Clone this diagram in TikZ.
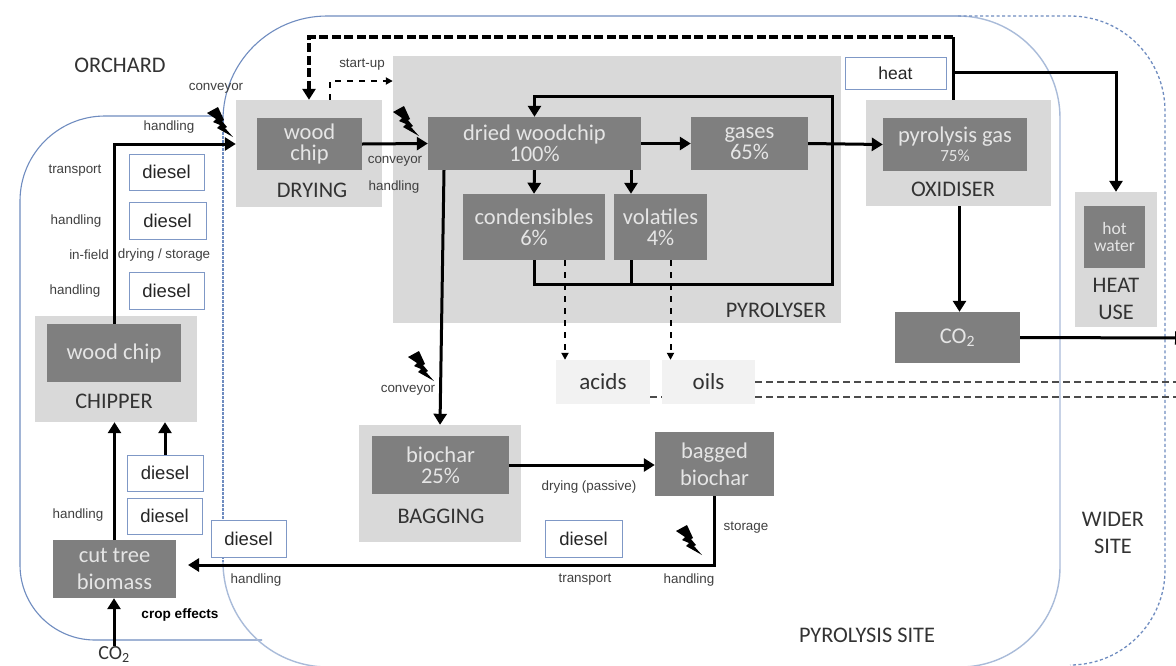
\documentclass[tikz,border=0pt]{standalone}
\usepackage{fontspec}
\setmainfont{Carlito}
\newfontfamily\arialfont{Liberation Sans}
\usetikzlibrary{arrows,arrows.meta,backgrounds}
\definecolor{sitelinecol}{HTML}{6F8CC0}
\definecolor{sitepalecol}{HTML}{A9BBD9}
\definecolor{darkboxcol}{HTML}{7F7F7F}
\definecolor{zonecol}{HTML}{D9D9D9}
\definecolor{productcol}{HTML}{F2F2F2}
\definecolor{fueledgecol}{HTML}{7F98C6}
\definecolor{notecol}{HTML}{404040}
\tikzset{bolt/.pic={\fill [black] (0,6) -- (11,0) -- (17,13) -- (15,14) -- (20,20) -- (18,21) -- (26,30)
  -- (10,21) -- (13,18) -- (6,15) -- (9,12) -- cycle;}}
\begin{document}
\begin{tikzpicture}[x=1pt, y=-1pt]
        \tikzstyle{darkbox}=[rectangle, fill=darkboxcol, text=white!90!black, inner sep=0pt, align=center, font=\fontsize{22.5}{21}\selectfont]
        \tikzstyle{zone}=[rectangle, fill=zonecol, inner sep=0pt]
        \tikzstyle{zonelabel}=[text=black!80, inner sep=0pt, align=center, font=\fontsize{22.3}{27}\selectfont]
        \tikzstyle{product}=[rectangle, fill=productcol, text=black!80, inner sep=0pt, font=\fontsize{23}{22}\selectfont]
        \tikzstyle{fuel}=[rectangle, draw=fueledgecol, line width=1pt, fill=white, text=black!85, inner sep=0pt, font=\arialfont\fontsize{18.5}{20}\selectfont]
        \tikzstyle{note}=[text=notecol, inner sep=0pt, font=\arialfont\fontsize{13.4}{14}\selectfont]
        \tikzstyle{flow}=[line width=3pt, black, -{Triangle[width=13pt,length=11pt]}]
        \tikzstyle{flowline}=[line width=3pt, black]
        \tikzstyle{loopdash}=[flow, line width=4pt, dash pattern=on 9pt off 3.5pt]
        \tikzstyle{smalldash}=[line width=2pt, black, dash pattern=on 6pt off 6pt, -{Triangle[width=7pt,length=7pt]}]
        \tikzstyle{sidedash}=[line width=1.6pt, black!70, dash pattern=on 7pt off 4pt]
        \useasboundingbox (0,0) rectangle (1176,665);

        % zones
        \node [zone, minimum width=146pt, minimum height=107pt] (drying) at (309,153.5) {};
        \node [zone, minimum width=448pt, minimum height=267pt] (pyrolyser) at (617,189.5) {};
        \node [zone, minimum width=185pt, minimum height=106pt] (oxidiser) at (958.5,153) {};
        \node [zone, minimum width=82pt, minimum height=135pt] (heatuse) at (1116,259.5) {};
        \node [zone, minimum width=162pt, minimum height=106pt] (chipper) at (116,369) {};
        \node [zone, minimum width=162pt, minimum height=117pt] (bagging) at (440,483.5) {};

        % process boxes
        \node [darkbox, minimum width=105pt, minimum height=52pt] (wetchip) at (309.5,144) {wood\\chip};
        \node [darkbox, minimum width=213pt, minimum height=53pt] (dried) at (534.5,143.5) {dried woodchip\\100\%};
        \node [darkbox, minimum width=117pt, minimum height=53pt] (gases) at (749.5,143.5) {gases\\65\%};
        \node [darkbox, minimum width=142pt, minimum height=66pt] (condens) at (534,227) {condensibles\\6\%};
        \node [darkbox, minimum width=93pt, minimum height=66pt] (volatiles) at (660.5,227) {volatiles\\4\%};
        \node [darkbox, minimum width=144pt, minimum height=53pt] (pyrogas) at (955,144.5) {pyrolysis gas\\[-2pt]{\fontsize{17}{14}\selectfont 75\%}};
        \node [darkbox, minimum width=61pt, minimum height=62pt, font=\fontsize{17.5}{17}\selectfont] (hotwater) at (1114.5,237) {hot\\water};
        \node [darkbox, minimum width=125pt, minimum height=51pt] (coo) at (957.5,337.5) {CO\textsubscript{2}};
        \node [darkbox, minimum width=134pt, minimum height=58pt] (chipbox) at (114,353) {wood chip};
        \node [darkbox, minimum width=137pt, minimum height=58pt] (biochar) at (440.5,465) {biochar\\25\%};
        \node [darkbox, minimum width=119pt, minimum height=64pt, font=\fontsize{22.5}{27}\selectfont] (bagged) at (714.5,464) {bagged\\biochar};
        \node [darkbox, minimum width=123pt, minimum height=58pt, font=\fontsize{22.5}{27}\selectfont] (biomass) at (114.5,569) {cut tree\\biomass};

        % products and fuel inputs
        \node [product, minimum width=94pt, minimum height=44pt] (acids) at (603,382) {acids};
        \node [product, minimum width=93pt, minimum height=44pt] (oils) at (708.5,382) {oils};
        \node [fuel, minimum width=101pt, minimum height=32pt, font=\arialfont\fontsize{17.5}{20}\selectfont] (heat) at (895.5,73) {heat};
        \node [fuel, minimum width=75pt, minimum height=36pt] (dieselA) at (166.5,172) {diesel};
        \node [fuel, minimum width=77pt, minimum height=37pt] (dieselB) at (167.5,220.5) {diesel};
        \node [fuel, minimum width=75pt, minimum height=37pt] (dieselC) at (166.5,290.5) {diesel};
        \node [fuel, minimum width=76pt, minimum height=36pt] (dieselD) at (165,473) {diesel};
        \node [fuel, minimum width=75pt, minimum height=36pt] (dieselE) at (164.5,516) {diesel};
        \node [fuel, minimum width=75pt, minimum height=37pt] (dieselF) at (248.5,538.5) {diesel};
        \node [fuel, minimum width=77pt, minimum height=37pt] (dieselG) at (583.5,538.5) {diesel};

        % zone labels
        \node [zonelabel] (dryinglabel) at (312,190) {DRYING};
        \node [zonelabel] (pyrolyserlabel) at (776,310) {PYROLYSER};
        \node [zonelabel] (oxidiserlabel) at (953,189) {OXIDISER};
        \node [zonelabel] (heatlabel) at (1116,298.5) {HEAT\\USE};
        \node [zonelabel] (chipperlabel) at (114,401) {CHIPPER};
        \node [zonelabel] (bagginglabel) at (441,516) {BAGGING};
        \node [zonelabel] (orchardlabel) at (120,65) {ORCHARD};
        \node [zonelabel] (sitelabel) at (867,635) {PYROLYSIS SITE};
        \node [zonelabel] (widerlabel) at (1113,533) {WIDER\\SITE};
        \node [zonelabel, font=\fontsize{20}{22}\selectfont] (intake) at (114,654.5) {CO\textsubscript{2}};

        % small notes
        \node [note] (n1) at (216,88) {conveyor};
        \node [note] (n2) at (169,127) {handling};
        \node [note] (n3) at (75,171) {transport};
        \node [note] (n4) at (76,221) {handling};
        \node [note] (n5) at (89,255) {in-field};
        \node [note] (n6) at (164,255) {drying / storage};
        \node [note] (n7) at (75,291) {handling};
        \node [note] (n8) at (362,65) {start-up};
        \node [note] (n9) at (395,161) {conveyor};
        \node [note] (n10) at (394,187) {handling};
        \node [note] (n11) at (78,515) {handling};
        \node [note] (n12) at (256,580) {handling};
        \node [note, text=black, font=\arialfont\bfseries\fontsize{13.6}{14}\selectfont] (n13) at (180,615) {crop effects};
        \node [note] (n14) at (408,390) {conveyor};
        \node [note] (n15) at (589,487) {drying (passive)};
        \node [note] (n16) at (746,528) {storage};
        \node [note] (n17) at (585,580) {transport};
        \node [note] (n18) at (689,580) {handling};

        % free corners of the connectors
        \coordinate (topbend) at (953,37);
        \coordinate (heatjoin) at (953,72);
        \coordinate (startcorner) at (330,81);
        \coordinate (loopse) at (832,284);
        \coordinate (loopne) at (832,96);
        \coordinate (rightedge) at (1186,338);
        \coordinate (returnend) at (188,565);

        % connectors
        \draw [flow] (biomass.north) -- (biomass.north |- chipper.south);
        \draw [flow] (dieselD.north) -- (dieselD.north |- chipper.south);
        \draw [flow] (intake.north) -- (intake.north |- biomass.south);
        \draw [flow] (chipbox.north) |- (wetchip.west -| drying.west);
        \draw [flow] (wetchip.east) -- (dried.west);
        \draw [flow] (dried.east) -- (gases.west);
        \draw [flow] (gases.east) -- (pyrogas.west);
        \draw [flow] (dried.south) -- (condens.north);
        \draw [flow] ([xshift=-29.5pt]volatiles.north |- dried.south) -- ([xshift=-29.5pt]volatiles.north);
        \draw [flow] (condens.south) |- (loopse) -- (loopne) -| (dried.north);
        \draw [flowline] ([xshift=-29.5pt]volatiles.south) -- ([xshift=-29.5pt]volatiles.south |- loopse);
        \draw [flow] ([xshift=-90.5pt]dried.south) -- (bagging.north);
        \draw [flow] (biochar.east) -- (biochar.east -| bagged.west);
        \draw [flow] (bagged.south) |- (returnend);
        \draw [flow] ([xshift=1pt]oxidiser.south) -- ([xshift=1pt]oxidiser.south |- coo.north);
        \draw [flow] (coo.east) -- (rightedge);
        \draw [flowline] (oxidiser.north -| topbend) -- (topbend);
        \draw [loopdash] (topbend) -| (drying.north);
        \draw [flow] (heatjoin) -| (heatuse.north);
        \draw [smalldash] (startcorner |- drying.north) |- (startcorner -| pyrolyser.west);
        \draw [smalldash] ([xshift=31pt]condens.south) -- ([xshift=31pt]condens.south |- acids.north);
        \draw [smalldash] ([xshift=10pt]volatiles.south) -- ([xshift=10pt]volatiles.south |- oils.north);
        \draw [sidedash] (oils.east) -- (oils.east -| rightedge);
        \draw [sidedash] ([yshift=-15pt]acids.east) -- ([yshift=-15pt]oils.west);
        \draw [sidedash] ([yshift=-15pt]oils.east) -- ([yshift=-15pt]oils.east -| rightedge);

        % power inputs
        \pic at (207,107) {bolt};
        \pic at (393,106) {bolt};
        \pic at (408,351) {bolt};
        \pic at (676,525) {bolt};

        \begin{pgfonlayer}{background}
          \fill [white] (0,0) rectangle (1176,665);
          % orchard
          \draw [sitelinecol, line width=1.1pt] (223,116) -- (105,116) arc (270:180:85) -- (20,565) arc (180:90:75) -- (262,640);
          % pyrolysis site
          \draw [sitelinecol, line width=1.1pt, dash pattern=on 3pt off 1pt] (223,120) -- (223,562);
          \draw [sitelinecol, line width=1.1pt] (223,120) arc (180:270:104) -- (958,16);
          \draw [sitepalecol, line width=1.4pt] (958,16) arc (270:360:102) -- (1060,567) arc (0:90:100);
          \draw [sitepalecol, line width=1.4pt] (223,562) arc (180:90:105);
          % wider site
          \draw [sitelinecol, line width=1.3pt, dash pattern=on 3pt off 2.5pt] (958,16) -- (1070,16) arc (270:360:95) -- (1165,570) arc (0:90:95);
        \end{pgfonlayer}
      \end{tikzpicture}
\end{document}
